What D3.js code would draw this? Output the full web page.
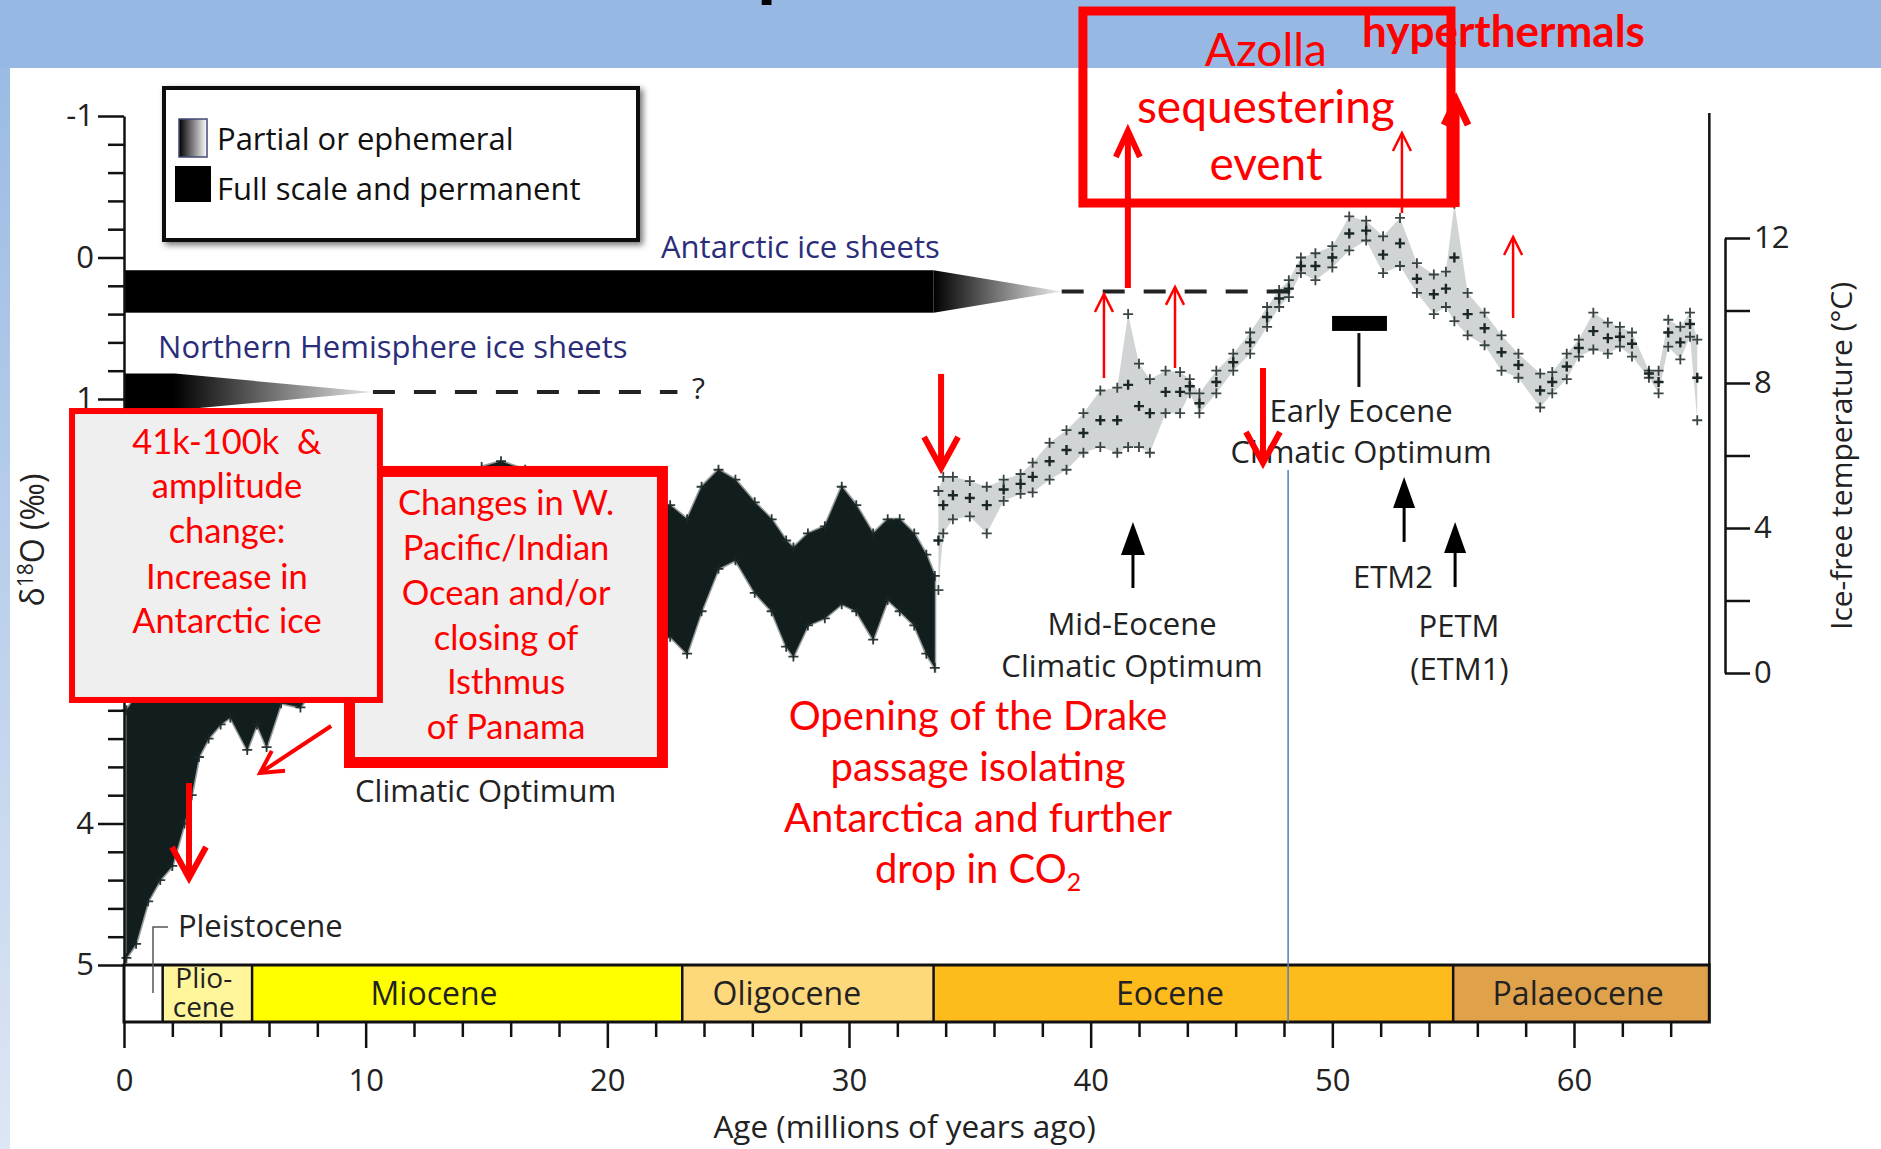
<!DOCTYPE html>
<html><head><meta charset="utf-8">
<script src="https://cdn.jsdelivr.net/npm/d3@7"></script>
<style>body{margin:0;background:#fff;overflow:hidden}svg{display:block}</style>
</head><body>
<svg id="c" width="1881" height="1149"></svg>
<script>
// ---------------- DATA ----------------
// Dense part of the benthic d18O record (Pleistocene .. Oligocene), envelope
const denseAge = [0.1,0.5,1.0,1.5,2.0,2.5,2.8,3.1,3.5,4.0,4.4,5.1,5.5,5.9,6.5,7.3,8,9,10,11,12,13,14,14.8,15.6,16.6,17.5,18.5,19.5,20.5,21.5,22.0,22.6,23.3,23.9,24.6,25.3,26.1,26.8,27.4,27.7,28.3,29.0,29.7,30.3,31.0,31.6,32.1,32.7,33.2,33.55];
const denseMin = [3.2,3.1,3.0,2.9,2.8,2.7,2.7,2.6,2.6,2.6,2.55,2.6,2.6,2.5,2.45,2.4,2.3,2.2,2.2,2.1,2.0,1.8,1.6,1.48,1.44,1.5,1.55,1.7,1.75,1.8,1.7,1.75,1.75,1.85,1.62,1.5,1.57,1.73,1.85,2.0,2.05,1.95,1.9,1.62,1.75,1.95,1.85,1.85,1.95,2.1,2.25];
const denseMax = [4.95,4.85,4.55,4.4,4.3,4.0,3.8,3.53,3.4,3.3,3.25,3.48,3.3,3.46,3.15,3.18,3.0,2.9,2.8,2.7,2.6,2.5,2.3,2.1,2.0,2.05,2.2,2.4,2.5,2.6,2.7,2.72,2.68,2.8,2.5,2.2,2.14,2.37,2.5,2.75,2.82,2.6,2.55,2.45,2.5,2.7,2.42,2.5,2.6,2.8,2.9];
// Sparse part (Eocene .. Palaeocene): lower / upper envelope and the densest cluster
const sparseAge = [33.7,33.9,34.3,35.0,35.7,36.4,37.1,37.6,38.3,39.0,39.7,40.4,41.1,41.55,42.0,42.45,43.1,43.7,44.1,44.5,45.2,45.9,46.6,47.3,47.8,48.2,48.7,49.3,50.0,50.7,51.4,52.1,52.8,53.5,54.2,54.7,55.05,55.6,56.3,57.0,57.7,58.6,59.1,59.7,60.2,60.8,61.4,61.9,62.4,63.1,63.5,63.9,64.4,64.8,65.1];
const sparseMin = [1.65,1.55,1.55,1.58,1.62,1.57,1.53,1.45,1.31,1.22,1.1,0.94,0.92,0.4,0.75,0.86,0.8,0.81,0.86,0.96,0.8,0.68,0.53,0.35,0.23,0.16,0.0,-0.03,-0.08,-0.29,-0.26,-0.15,-0.28,0.04,0.12,0.1,-0.38,0.25,0.39,0.55,0.68,0.82,0.81,0.68,0.58,0.39,0.46,0.49,0.53,0.8,0.8,0.44,0.49,0.39,0.58];
const sparseMax = [2.35,1.95,1.85,1.83,1.95,1.72,1.67,1.66,1.57,1.5,1.38,1.34,1.38,1.34,1.34,1.38,1.1,1.1,0.96,1.1,0.96,0.8,0.68,0.49,0.35,0.28,0.11,0.16,0.07,-0.05,-0.12,0.11,0.06,0.25,0.4,0.35,0.45,0.55,0.62,0.8,0.85,1.06,0.96,0.86,0.7,0.65,0.68,0.63,0.7,0.85,0.96,0.63,0.72,0.56,1.15];
const sparseCore = [2.0,1.75,1.68,1.7,1.75,1.64,1.6,1.55,1.44,1.36,1.24,1.15,1.15,0.9,1.05,1.1,0.95,0.95,0.91,1.03,0.88,0.74,0.6,0.42,0.29,0.22,0.06,0.06,0.0,-0.17,-0.19,-0.02,-0.1,0.15,0.26,0.22,0.0,0.4,0.5,0.67,0.76,0.94,0.88,0.77,0.64,0.52,0.57,0.56,0.61,0.82,0.88,0.53,0.6,0.47,0.85];

// Geological epochs (Ma)
const epochNames = ["", "Plio-|cene", "Miocene", "Oligocene", "Eocene", "Palaeocene"];
const epochStart = [0, 1.6, 5.3, 23.1, 33.5, 55.0];
const epochEnd   = [1.6, 5.3, 23.1, 33.5, 55.0, 65.6];
const epochLabelAge = [0.8, 3.3, 12.83, 27.43, 43.28, 60.17];
const epochColor = ["#ffffff", "#fff59b", "#ffff00", "#fed97b", "#fdbb1c", "#dfa24b"];

// Ticks
const xMajorTicks = [0,10,20,30,40,50,60];
const xMinorStep = 2;
const yTickLabels = [-1,0,1,2,3,4,5];
const yMinorStep = 0.2;
const tempTicks = [0,2,4,6,8,10,12];
const tempLabels = [0,4,8,12];

// Ice sheets (age in Ma, d18O extent)
const antarcticFull = [0, 33.5];
const antarcticTaperEnd = 38.8;
const antarcticDashEnd = 48.4;
const antarcticD18O = [0.09, 0.24, 0.39];
const nhBlack = [0, 2.1];
const nhTaperEnd = 10.3;
const nhDashEnd = 22.9;
const nhD18O = [0.82, 0.95, 1.08];

// ---------------- SETUP ----------------
const svg = d3.select("#c");
const W = 1881, H = 1149;
const x = d3.scaleLinear().domain([0, 60]).range([124, 1574]);
const y = d3.scaleLinear().domain([-1, 5]).range([116, 965]);
const tY = d3.scaleLinear().domain([0, 12]).range([673, 238]);
const FIG = "'Open Sans', 'Noto Sans', sans-serif";
const RED = "Lato, 'Open Sans', sans-serif";
const RC = "#ff0000";
const TXT = "#222";

const defs = svg.append("defs");
const lg = defs.append("linearGradient").attr("id","strip").attr("x1",0).attr("y1",0).attr("x2",0).attr("y2",1);
lg.append("stop").attr("offset","0%").attr("stop-color","#9bbbe4");
lg.append("stop").attr("offset","100%").attr("stop-color","#dde6f4");
const ag = defs.append("linearGradient").attr("id","antTaper").attr("gradientUnits","userSpaceOnUse")
  .attr("x1", x(antarcticFull[1])).attr("x2", x(antarcticTaperEnd)).attr("y1",0).attr("y2",0);
ag.append("stop").attr("offset","0%").attr("stop-color","#000");
ag.append("stop").attr("offset","100%").attr("stop-color","#ececec");
const ng = defs.append("linearGradient").attr("id","nhTaper").attr("gradientUnits","userSpaceOnUse")
  .attr("x1", x(nhBlack[0])).attr("x2", x(nhTaperEnd)).attr("y1",0).attr("y2",0);
ng.append("stop").attr("offset","0%").attr("stop-color","#000");
ng.append("stop").attr("offset","20%").attr("stop-color","#000");
ng.append("stop").attr("offset","100%").attr("stop-color","#e4e4e4");
const sg = defs.append("linearGradient").attr("id","legGrad").attr("x1",0).attr("x2",1).attr("y1",0).attr("y2",0);
sg.append("stop").attr("offset","0%").attr("stop-color","#000");
sg.append("stop").attr("offset","100%").attr("stop-color","#fff");
const sh = defs.append("filter").attr("id","shadow").attr("x","-10%").attr("y","-10%").attr("width","130%").attr("height","130%");
sh.append("feDropShadow").attr("dx",3).attr("dy",3).attr("stdDeviation",3).attr("flood-color","#000").attr("flood-opacity",0.55);

// Background / slide frame
svg.append("rect").attr("width",W).attr("height",H).attr("fill","#fff");
svg.append("rect").attr("x",0).attr("y",0).attr("width",W).attr("height",68).attr("fill","#96b8e3");
svg.append("rect").attr("x",0).attr("y",68).attr("width",10).attr("height",H-68).attr("fill","url(#strip)");
// cut-off slide title (only a descender visible)
svg.append("text").attr("x",757).attr("y",-7).attr("font-family","'DejaVu Sans'").attr("font-weight","bold")
  .attr("font-size",56).attr("fill","#000").text("p");

// ---------------- ICE SHEETS ----------------
const ice = svg.append("g");
ice.append("rect").attr("x", x(antarcticFull[0])).attr("y", y(antarcticD18O[0]))
  .attr("width", x(antarcticFull[1]) - x(antarcticFull[0])).attr("height", y(antarcticD18O[2]) - y(antarcticD18O[0])).attr("fill","#000");
ice.append("path").attr("d", d3.line()([[x(antarcticFull[1]), y(antarcticD18O[0])],[x(antarcticTaperEnd), y(antarcticD18O[1])],[x(antarcticFull[1]), y(antarcticD18O[2])]]) + "Z")
  .attr("fill","url(#antTaper)");
ice.append("line").attr("x1", x(antarcticTaperEnd)).attr("x2", x(antarcticDashEnd)).attr("y1", y(antarcticD18O[1])).attr("y2", y(antarcticD18O[1]))
  .attr("stroke","#222").attr("stroke-width",4).attr("stroke-dasharray","22,19");
ice.append("path").attr("d", d3.line()([[x(nhBlack[0]), y(nhD18O[0])],[x(nhBlack[1]), y(nhD18O[0])],[x(nhTaperEnd), y(nhD18O[1])],[x(nhBlack[1]), y(nhD18O[2])],[x(nhBlack[0]), y(nhD18O[2])]]) + "Z")
  .attr("fill","url(#nhTaper)");
ice.append("line").attr("x1", x(nhTaperEnd)).attr("x2", x(nhDashEnd)).attr("y1", y(nhD18O[1])).attr("y2", y(nhD18O[1]))
  .attr("stroke","#222").attr("stroke-width",4).attr("stroke-dasharray","22,19");
ice.append("text").attr("x", x(23.5)).attr("y", y(1.0)).attr("font-family",FIG).attr("font-size",30).attr("fill",TXT).text("?");
ice.append("text").attr("x", x(22.22)).attr("y", y(0.0)).attr("font-family",FIG).attr("font-size",31).attr("fill","#2b2d7a").text("Antarctic ice sheets");
ice.append("text").attr("x", x(1.41)).attr("y", y(0.71)).attr("font-family",FIG).attr("font-size",31).attr("fill","#2b2d7a").text("Northern Hemisphere ice sheets");

// ---------------- DATA MARKS ----------------
const dataG = svg.append("g");
const dIdx = d3.range(denseAge.length);
dataG.append("path").attr("d", d3.area().x(i => x(denseAge[i])).y0(i => y(denseMin[i])).y1(i => y(denseMax[i]))(dIdx))
  .attr("fill","#121d1d").attr("stroke","#1a2626").attr("stroke-opacity",0.45).attr("stroke-width",3);
const sIdx = d3.range(sparseAge.length);
dataG.append("path").attr("d", d3.area().x(i => x(sparseAge[i])).y0(i => y(sparseMin[i])).y1(i => y(sparseMax[i]))(sIdx))
  .attr("fill","#1a2626").attr("fill-opacity",0.2);
const plus = "M-5,0H5M0,-5V5";
function plusMarks(ages, vals, op, sw){
  dataG.append("g").selectAll("path").data(d3.range(ages.length)).join("path")
    .attr("transform", i => `translate(${x(ages[i])},${y(vals[i])})`)
    .attr("d", plus).attr("stroke","#1a2626").attr("stroke-width",sw).attr("stroke-opacity",op);
}
plusMarks(denseAge, denseMin, 0.9, 1.8); plusMarks(denseAge, denseMax, 0.9, 1.8);
plusMarks(sparseAge, sparseMin, 0.85, 1.8); plusMarks(sparseAge, sparseMax, 0.85, 1.8); plusMarks(sparseAge, sparseCore, 1, 2.4);

// ---------------- AXES ----------------
const yTicksAll = d3.range(-1, 5.0001, yMinorStep).map(v => Math.round(v*10)/10);
const isInt = v => Math.abs(v - Math.round(v)) < 1e-6;
const yAx = svg.append("g").attr("transform", `translate(${x(0)},0)`)
  .call(d3.axisLeft(y).tickValues(yTicksAll).tickSizeInner(16).tickSizeOuter(0).tickPadding(6)
  .tickFormat(d => isInt(d) && yTickLabels.includes(Math.round(d)) ? String(Math.round(d)).replace("−","-") : ""));
yAx.select(".domain").attr("stroke","#111").attr("stroke-width",2.5);
yAx.selectAll(".tick line").attr("stroke","#111").attr("stroke-width",2.5).attr("x2", d => isInt(d) ? -26 : -16);
yAx.selectAll(".tick text").attr("x",-30).attr("font-family",FIG).attr("font-size",31).attr("fill",TXT);

// epoch bar
const bar = svg.append("g");
const barTop = y(5), barBot = 1022;
bar.selectAll("rect.ep").data(d3.range(epochNames.length)).join("rect").attr("class","ep")
  .attr("x", i => x(epochStart[i])).attr("width", i => x(epochEnd[i]) - x(epochStart[i]))
  .attr("y", barTop).attr("height", barBot - barTop).attr("fill", i => epochColor[i]);
bar.selectAll("line.sep").data(epochStart.slice(1)).join("line").attr("class","sep")
  .attr("x1", d => x(d)).attr("x2", d => x(d)).attr("y1", barTop).attr("y2", barBot).attr("stroke","#111").attr("stroke-width",2.5);
bar.append("rect").attr("x", x(0)).attr("y", barTop).attr("width", x(epochEnd[epochEnd.length-1]) - x(0)).attr("height", barBot - barTop)
  .attr("fill","none").attr("stroke","#111").attr("stroke-width",3);
bar.selectAll("text.ep").data(d3.range(1, epochNames.length)).join("text").attr("class","ep")
  .attr("x", i => x(epochLabelAge[i])).attr("text-anchor","middle")
  .attr("font-family",FIG).attr("font-size",32).attr("fill",TXT)
  .each(function(i){
    const parts = epochNames[i].split("|");
    const t = d3.select(this);
    if (parts.length === 1) { t.attr("y", 1005).text(parts[0]); }
    else {
      t.attr("font-size",28);
      parts.forEach((p, k) => t.append("tspan").attr("x", x(epochLabelAge[i])).attr("y", 988 + k*29).text(p));
    }
  });

// right frame and bottom axis
svg.append("line").attr("x1", x(epochEnd[5])).attr("x2", x(epochEnd[5])).attr("y1", 113).attr("y2", barTop)
  .attr("stroke","#111").attr("stroke-width",2.5);
const xAx = svg.append("g").attr("transform", `translate(0,${barBot})`)
  .call(d3.axisBottom(x).tickValues(d3.range(0, 65, xMinorStep)).tickSizeInner(15).tickSizeOuter(0)
  .tickFormat(d => xMajorTicks.includes(d) ? d : ""));
xAx.select(".domain").remove();
xAx.selectAll(".tick line").attr("stroke","#111").attr("stroke-width",2.5).attr("y2", d => xMajorTicks.includes(d) ? 26 : 15);
xAx.selectAll(".tick text").attr("y",69).attr("dy",null).attr("font-family",FIG).attr("font-size",31).attr("fill",TXT);
svg.append("text").attr("x", x(32.3)).attr("y", 1138).attr("text-anchor","middle").attr("font-family",FIG).attr("font-size",31.5).attr("fill",TXT)
  .text("Age (millions of years ago)");

// temperature axis
const tAx = svg.append("g").attr("transform", "translate(1725,0)")
  .call(d3.axisRight(tY).tickValues(tempTicks).tickSizeInner(25).tickSizeOuter(0).tickPadding(4)
  .tickFormat(d => tempLabels.includes(d) ? d : ""));
tAx.select(".domain").attr("stroke","#111").attr("stroke-width",2.5);
tAx.selectAll(".tick line").attr("stroke","#111").attr("stroke-width",2.5);
tAx.selectAll(".tick text").attr("font-family",FIG).attr("font-size",31).attr("fill",TXT);
svg.append("text").attr("transform","translate(1852,456) rotate(-90)").attr("text-anchor","middle")
  .attr("font-family",FIG).attr("font-size",30).attr("fill",TXT).text("Ice-free temperature (°C)");
const yl = svg.append("text").attr("transform","translate(44,540) rotate(-90)").attr("text-anchor","middle")
  .attr("font-family",FIG).attr("font-size",32).attr("fill",TXT);
yl.append("tspan").text("δ");
yl.append("tspan").attr("font-size",21).attr("dy",-11).text("18");
yl.append("tspan").attr("dy",11).text("O (‰)");

// ---------------- LEGEND ----------------
const leg = svg.append("g");
leg.append("rect").attr("x",164).attr("y",88).attr("width",474).attr("height",152).attr("fill","#fff")
  .attr("stroke","#111").attr("stroke-width",4).attr("filter","url(#shadow)");
leg.append("rect").attr("x",179).attr("y",119).attr("width",28).attr("height",38).attr("fill","url(#legGrad)").attr("stroke","#44487a").attr("stroke-width",1.5);
leg.append("rect").attr("x",175).attr("y",166).attr("width",36).attr("height",36).attr("fill","#000");
leg.append("text").attr("x",217).attr("y",150).attr("font-family",FIG).attr("font-size",31).attr("fill","#111").text("Partial or ephemeral");
leg.append("text").attr("x",217).attr("y",200).attr("font-family",FIG).attr("font-size",31).attr("fill","#111").text("Full scale and permanent");

// ---------------- FIGURE ANNOTATIONS ----------------
const ann = svg.append("g").attr("font-family",FIG).attr("fill",TXT).attr("font-size",31);
ann.append("text").attr("x", x(2.23)).attr("y", y(4.802)).text("Pleistocene");
ann.append("path").attr("d", `M${x(1.82)},${y(4.731)}H${x(1.2)}V${y(5.198)}`).attr("fill","none").attr("stroke","#555").attr("stroke-width",1.5);
ann.append("text").attr("x", x(9.56)).attr("y", y(3.848)).text("Climatic Optimum");
ann.append("text").attr("x", x(41.71)).attr("y", y(2.668)).attr("text-anchor","middle").text("Mid-Eocene");
ann.append("text").attr("x", x(41.71)).attr("y", y(2.965)).attr("text-anchor","middle").text("Climatic Optimum");
ann.append("text").attr("x", x(51.19)).attr("y", y(1.163)).attr("text-anchor","middle").text("Early Eocene");
ann.append("text").attr("x", x(51.19)).attr("y", y(1.452)).attr("text-anchor","middle").text("Climatic Optimum");
ann.append("text").attr("x", x(52.51)).attr("y", y(2.336)).attr("text-anchor","middle").text("ETM2");
ann.append("text").attr("x", x(55.24)).attr("y", y(2.682)).attr("text-anchor","middle").text("PETM");
ann.append("text").attr("x", x(55.26)).attr("y", y(2.986)).attr("text-anchor","middle").text("(ETM1)");
ann.append("rect").attr("x", x(49.99)).attr("y", y(0.413)).attr("width", x(52.26)-x(49.99)).attr("height", y(0.519)-y(0.413)).attr("fill","#000");
ann.append("line").attr("x1", x(51.1)).attr("x2", x(51.1)).attr("y1", y(0.534)).attr("y2", y(0.915)).attr("stroke","#111").attr("stroke-width",3);
function blackArrow(a, dFrom, dTip, headTo, half){
  ann.append("line").attr("x1", x(a)).attr("x2", x(a)).attr("y1", y(dFrom)).attr("y2", y(headTo)).attr("stroke","#000").attr("stroke-width",3);
  ann.append("path").attr("d", `M${x(a)},${y(dTip)}L${x(a)+half},${y(headTo)}L${x(a)-half},${y(headTo)}Z`).attr("fill","#000");
}
blackArrow(41.75, 2.336, 1.869, 2.102, 12);
blackArrow(52.97, 2.01, 1.551, 1.77, 11);
blackArrow(55.08, 2.329, 1.869, 2.088, 11);
svg.append("line").attr("x1", x(48.17)).attr("x2", x(48.17)).attr("y1", y(1.502)).attr("y2", barBot)
  .attr("stroke","#4f7fbf").attr("stroke-width",1.5);

// ---------------- RED ANNOTATIONS ----------------
const red = svg.append("g");
function redArrow(a1, d1, a2, d2, sw, headLen, half){
  const x1 = x(a1), y1 = y(d1), x2 = x(a2), y2 = y(d2);
  const L = Math.hypot(x2-x1, y2-y1), ux = (x2-x1)/L, uy = (y2-y1)/L, nx = -uy, ny = ux;
  red.append("line").attr("x1",x1).attr("y1",y1).attr("x2",x2 - ux*sw*0.3).attr("y2",y2 - uy*sw*0.3)
    .attr("stroke",RC).attr("stroke-width",sw);
  const bx = x2 - ux*headLen, by = y2 - uy*headLen;
  red.append("path").attr("d", `M${bx + nx*half},${by + ny*half}L${x2},${y2}L${bx - nx*half},${by - ny*half}`)
    .attr("fill","none").attr("stroke",RC).attr("stroke-width",sw).attr("stroke-linejoin","miter").attr("stroke-linecap","butt");
}
function redBox(a1, a2, d1, d2, sw){
  red.append("rect").attr("x", x(a1)).attr("y", y(d1)).attr("width", x(a2)-x(a1)).attr("height", y(d2)-y(d1))
    .attr("fill","#efefef").attr("stroke",RC).attr("stroke-width",sw);
}
redBox(9.33, 22.28, 1.512, 3.569, 11);
redBox(-2.15, 10.59, 1.085, 3.127, 6);
const box1Lines = ["41k-100k  &", "amplitude", "change:", "Increase in", "Antarctic ice"];
const box1Base = [1.389, 1.700, 2.018, 2.343, 2.654];
const box2Lines = ["Changes in W.", "Pacific/Indian", "Ocean and/or", "closing of", "Isthmus", "of Panama"];
const box2Base = [1.820, 2.138, 2.456, 2.774, 3.085, 3.403];
const drakeLines = ["Opening of the Drake", "passage isolating", "Antarctica and further", "drop in CO"];
const drakeBase = [3.339, 3.700, 4.060, 4.420];
function redLines(lines, base, a, size){
  lines.forEach((s, i) => {
    const t = red.append("text").attr("x", x(a)).attr("y", y(base[i])).attr("text-anchor","middle")
      .attr("font-family",RED).attr("font-size",size).attr("fill",RC).style("white-space","pre").text(s);
    if (s === "drop in CO") t.append("tspan").attr("font-size",size*0.62).attr("dy",8).text("2");
  });
}
redLines(box1Lines, box1Base, 4.26, 34.5);
redLines(box2Lines, box2Base, 15.81, 34.5);
redLines(drakeLines, drakeBase, 35.34, 40);

// Azolla box
red.append("rect").attr("x", x(39.68)).attr("y", y(-1.742)).attr("width", x(54.91)-x(39.68)).attr("height", y(-0.385)-y(-1.742))
  .attr("fill","none").attr("stroke",RC).attr("stroke-width",9);
redLines(["Azolla", "sequestering", "event"], [-1.353, -0.951, -0.548], 47.25, 46);
red.append("text").attr("x", x(51.23)).attr("y", y(-1.488)).attr("font-family",RED).attr("font-weight","bold")
  .attr("font-size",44).attr("fill",RC).text("hyperthermals");

// arrows
redArrow(41.54, 0.216, 41.54, -0.894, 6, 26, 12);
redArrow(40.55, 0.852, 40.55, 0.258, 2.5, 18, 9);
redArrow(43.49, 0.781, 43.49, 0.208, 2.5, 18, 9);
redArrow(52.88, -0.314, 52.88, -0.880, 2.5, 18, 9);
redArrow(55.12, -0.357, 55.12, -1.113, 7, 25, 12);
redArrow(57.48, 0.428, 57.48, -0.145, 2.5, 18, 9);
redArrow(33.81, 0.823, 33.81, 1.488, 6, 31, 17);
redArrow(47.13, 0.781, 47.13, 1.452, 6, 31, 17);
redArrow(2.69, 3.714, 2.69, 4.385, 6, 31, 17);
redArrow(8.57, 3.311, 5.63, 3.643, 4, 22, 12);
</script>
</body></html>
